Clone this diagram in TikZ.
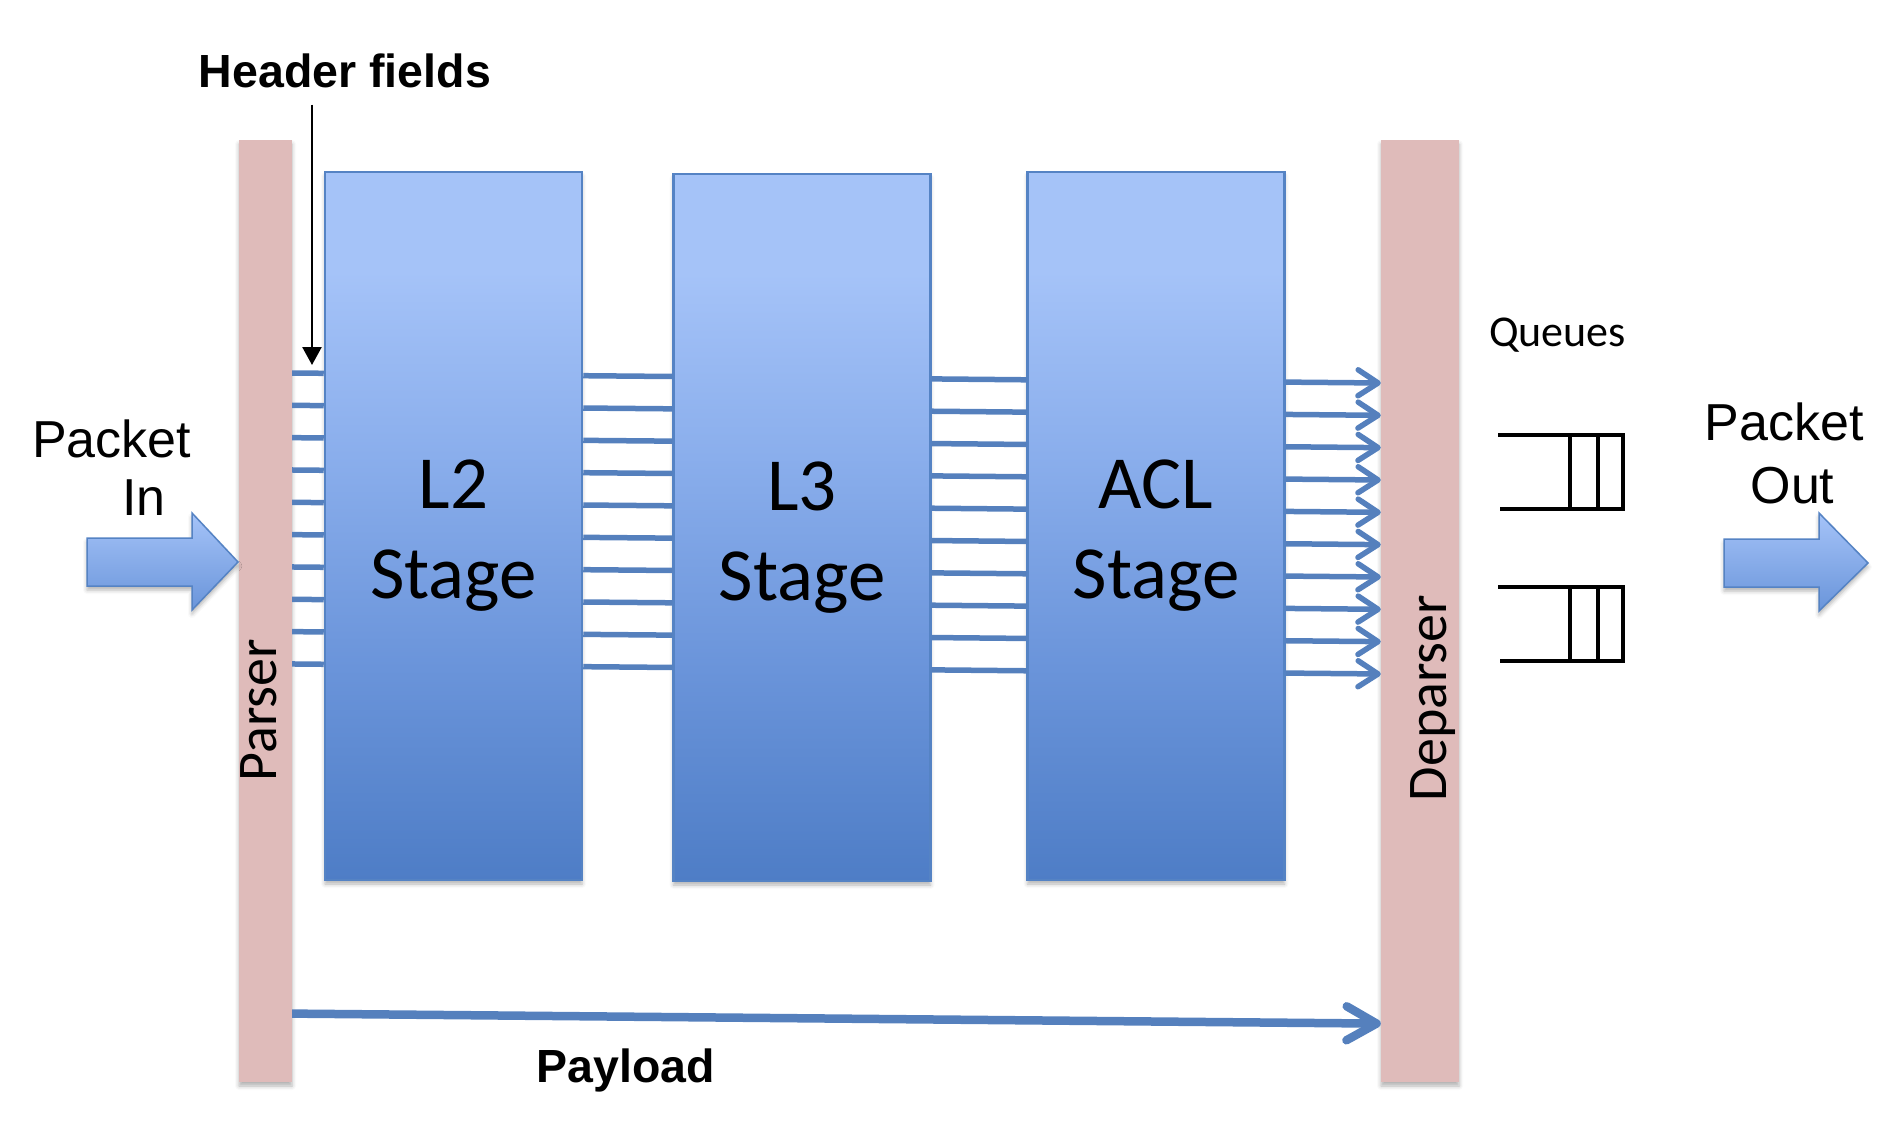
\documentclass[tikz,border=0pt]{standalone}
\usepackage{fontspec}
\setmainfont{Liberation Sans}
\newfontfamily\calfont{Carlito}
\usetikzlibrary{arrows.meta,shadows.blur,calc}
\definecolor{sttop}{HTML}{A5C3F8}
\definecolor{stmidA}{HTML}{8AAEEC}
\definecolor{stmidB}{HTML}{6A94DA}
\definecolor{stbot}{HTML}{4E7DC6}
\definecolor{stborder}{HTML}{5583C4}
\definecolor{buscol}{HTML}{5580BD}
\definecolor{pinkbar}{HTML}{DFBBBA}
\definecolor{arrbot}{HTML}{6A95DA}
\pgfdeclareverticalshading{stageshade}{100bp}{color(0bp)=(stbot); color(25bp)=(stbot); color(40bp)=(stmidB); color(55bp)=(stmidA); color(68bp)=(sttop); color(75bp)=(sttop); color(100bp)=(sttop)}
\tikzset{
  softshadow/.style={blur shadow={shadow xshift=0pt, shadow yshift=-4pt, shadow blur radius=4pt, shadow opacity=30}},
  barbox/.style={rectangle, fill=pinkbar, draw=none, inner sep=0pt, softshadow},
  stagebox/.style={rectangle, shading=stageshade, draw=stborder, line width=2.5pt, inner sep=0pt, minimum width=257pt, softshadow},
  stagelabel/.style={font=\calfont\fontsize{75}{90}\selectfont, align=center, inner sep=0pt},
  sidelabel/.style={font=\calfont\fontsize{56}{60}\selectfont, inner sep=0pt, rotate=90},
  boldlbl/.style={font=\bfseries\fontsize{46.5}{50}\selectfont, inner sep=0pt},
  plainlbl/.style={font=\fontsize{52}{58}\selectfont, inner sep=0pt},
  queuelbl/.style={font=\calfont\fontsize{44}{48}\selectfont, inner sep=0pt},
  busline/.style={draw=buscol, line width=5.5pt},
  busarrow/.style={busline, -{Straight Barb[length=20pt,width=26pt,round]}},
  payarrow/.style={draw=buscol, line width=8.5pt, -{Straight Barb[length=30pt,width=34pt,round]}},
  hdrarrow/.style={draw=black, line width=2.5pt, -{Triangle[length=18pt,width=19pt]}},
  blockarrow/.style={top color=sttop, bottom color=arrbot, draw=stborder, line width=1.5pt, softshadow},
  queueline/.style={draw=black, line width=4pt},
}
\begin{document}
\begin{tikzpicture}[x=1pt,y=-1pt]
\useasboundingbox (0,0) rectangle (1890,1126);

% parser / deparser bars
\node[barbox, minimum width=53pt, minimum height=942pt] (parser) at (265.5,611) {};
\node[barbox, minimum width=78pt, minimum height=942pt] (deparser) at (1420,611) {};

% stages
\node[stagebox, minimum height=708pt] (l2) at (453.5,526) {};
\node[stagebox, minimum height=707pt] (l3) at (802,527.5) {};
\node[stagebox, minimum height=708pt] (acl) at (1156,526) {};
\node[stagelabel] (l2txt) at (453.5,536) {L2\\Stage};
\node[stagelabel] (l3txt) at (802,538) {L3\\Stage};
\node[stagelabel] (acltxt) at (1156,536) {ACL\\Stage};

% bar labels
\node[sidelabel] (ptxt) at (258.5,710) {Parser};
\node[sidelabel] (dtxt) at (1433,698) {Deparser};

% bus lines
\foreach \i in {0,...,9}{
  \pgfmathsetmacro{\yb}{373+32.33*\i}
  \pgfmathsetmacro{\ya}{\yb+0.3}
  \pgfmathsetmacro{\yc}{\yb+2.7}
  \pgfmathsetmacro{\yd}{\yb+3.5}
  \pgfmathsetmacro{\ye}{\yb+5.9}
  \pgfmathsetmacro{\yf}{\yb+6.8}
  \pgfmathsetmacro{\yg}{\yb+9.1}
  \pgfmathsetmacro{\yh}{\yb+10.0}
  \draw[busline] (parser.east |- 0,\yb) -- (l2.west |- 0,\ya);
  \draw[busline] (l2.east |- 0,\yc) -- (l3.west |- 0,\yd);
  \draw[busline] (l3.east |- 0,\ye) -- (acl.west |- 0,\yf);
  \draw[busarrow] (acl.east |- 0,\yg) -- (deparser.west |- 0,\yh);
}

% payload
\draw[payarrow] (parser.east |- 0,1013.6) -- (deparser.west |- 0,1023.6);
\node[boldlbl, anchor=base] (pay) at (626,1082) {Payload};

% header fields
\node[boldlbl, anchor=base] (hdr) at (345,88) {Header fields};
\coordinate (hdrtip) at (312,365);
\draw[hdrarrow] (hdr.south -| hdrtip) ++(0,16) -- (hdrtip);

% packet in / out
\node[plainlbl, anchor=base] (pin1) at (111.5,457) {Packet};
\node[plainlbl, anchor=base] (pin2) at (144,515) {In};
\node[plainlbl, anchor=base] (pout1) at (1784,440) {Packet};
\node[plainlbl, anchor=base] (pout2) at (1792.5,503) {Out};
\path[blockarrow] (87,538) -- (192,538) -- (192,513) -- (238,562) -- (192,610) -- (192,586) -- (87,586) -- cycle;
\path[blockarrow] (1724,539) -- (1819,539) -- (1819,513) -- (1868,563) -- (1819,611) -- (1819,587) -- (1724,587) -- cycle;

% queues
\node[queuelbl, anchor=base] (qtxt) at (1557.5,346) {Queues};
\draw[queueline] (1498,435) -- (1623,435) -- (1623,509) -- (1500,509);
\draw[queueline] (1570,435) -- (1570,509);
\draw[queueline] (1598,435) -- (1598,509);
\draw[queueline] (1498,587) -- (1623,587) -- (1623,661) -- (1500,661);
\draw[queueline] (1570,587) -- (1570,661);
\draw[queueline] (1598,587) -- (1598,661);
\end{tikzpicture}
\end{document}
